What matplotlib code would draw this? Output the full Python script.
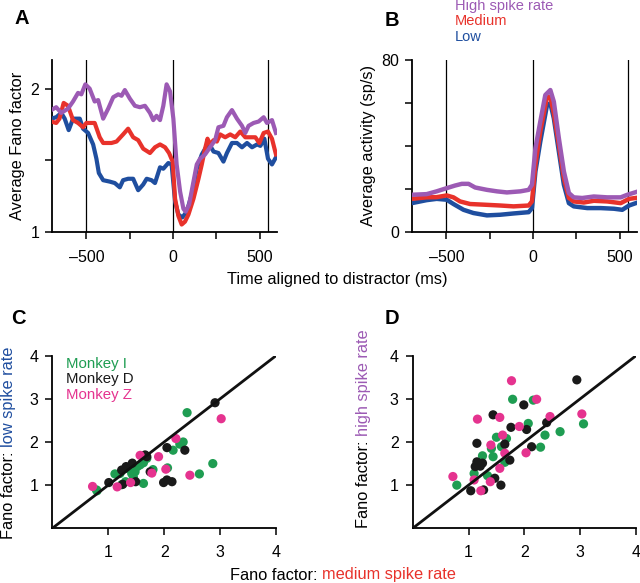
import matplotlib
matplotlib.use("Agg")
import matplotlib.pyplot as plt
from matplotlib.ticker import FixedLocator

plt.rcParams['font.family'] = ['Liberation Sans', 'DejaVu Sans']

# ---------------- Panel A: Fano factor time courses ----------------
t_high_A = [-703, -674, -645, -606, -577, -548, -529, -506, -481, -452, -432, -403, -374, -345, -316, -297,
            -278, -249, -220, -191, -162, -133, -114, -95, -75, -56, -37, -17, 2, 21, 41, 60, 73, 93, 118,
            137, 156, 185, 214, 243, 262, 291, 311, 340, 369, 398, 417, 436, 465, 494, 523, 542, 571, 594]
f_high_A = [1.85, 1.87, 1.83, 1.86, 1.91, 1.97, 1.96, 2.03, 2.00, 1.91, 1.92, 1.79, 1.86, 1.94, 1.96, 1.95,
            1.99, 1.93, 1.88, 1.87, 1.88, 1.83, 1.78, 1.81, 1.78, 1.88, 2.03, 1.98, 1.79, 1.47, 1.28, 1.16,
            1.14, 1.19, 1.35, 1.47, 1.51, 1.54, 1.59, 1.64, 1.73, 1.74, 1.80, 1.85, 1.79, 1.74, 1.69, 1.74,
            1.76, 1.77, 1.80, 1.76, 1.78, 1.69]
t_med_A = [-703, -674, -655, -631, -606, -577, -548, -519, -500, -452, -423, -403, -355, -326, -288, -259,
           -230, -201, -172, -133, -104, -75, -46, -23, -2, 12, 31, 50, 69, 89, 118, 147, 166, 185, 199, 214,
           234, 253, 272, 301, 330, 359, 388, 417, 446, 475, 498, 523, 548, 571, 594]
f_med_A = [1.77, 1.76, 1.79, 1.90, 1.88, 1.78, 1.76, 1.73, 1.76, 1.76, 1.66, 1.62, 1.62, 1.63, 1.68, 1.72,
           1.66, 1.64, 1.58, 1.55, 1.59, 1.61, 1.59, 1.55, 1.49, 1.23, 1.11, 1.05, 1.07, 1.12, 1.23, 1.37,
           1.47, 1.58, 1.65, 1.61, 1.64, 1.63, 1.68, 1.66, 1.68, 1.66, 1.70, 1.66, 1.66, 1.66, 1.62, 1.69,
           1.70, 1.65, 1.54]
t_low_A = [-703, -674, -645, -625, -602, -577, -538, -519, -490, -461, -442, -428, -403, -365, -336, -307,
           -288, -259, -230, -201, -172, -152, -124, -104, -75, -56, -27, -8, 12, 31, 54, 79, 108, 137, 166,
           205, 234, 262, 291, 311, 340, 369, 398, 427, 456, 485, 504, 527, 548, 571, 594]
f_low_A = [1.79, 1.80, 1.83, 1.79, 1.71, 1.79, 1.79, 1.72, 1.69, 1.61, 1.51, 1.41, 1.36, 1.35, 1.34, 1.31,
           1.36, 1.37, 1.37, 1.29, 1.33, 1.37, 1.36, 1.34, 1.45, 1.44, 1.48, 1.47, 1.21, 1.12, 1.10, 1.14,
           1.26, 1.44, 1.54, 1.62, 1.56, 1.55, 1.49, 1.55, 1.62, 1.62, 1.59, 1.62, 1.59, 1.61, 1.60, 1.65,
           1.51, 1.47, 1.52]

# ---------------- Panel B: average activity ----------------
t_high_B = [-700, -614, -556, -498, -450, -411, -372, -334, -266, -208, -151, -73, -25, -6, 14, 42, 71, 100,
            120, 149, 178, 207, 235, 284, 351, 428, 506, 544, 600]
r_high_B = [17.2, 17.5, 18.8, 20.3, 21.5, 22.3, 22.3, 20.6, 19.5, 18.8, 18.3, 18.8, 19.5, 21.9, 38.9, 51.3,
            63.7, 66.0, 60.6, 43.6, 28.1, 18.0, 16.0, 15.7, 16.4, 16.0, 16.0, 17.2, 18.6]
t_med_B = [-700, -614, -556, -498, -459, -421, -363, -286, -189, -112, -25, -6, 14, 42, 81, 100, 120, 149,
           178, 207, 235, 293, 351, 428, 506, 554, 600]
r_med_B = [15.3, 16.0, 16.1, 16.9, 16.0, 14.1, 12.9, 12.6, 12.2, 11.8, 12.2, 14.1, 31.2, 46.7, 62.9, 62.9,
           55.2, 40.5, 25.0, 15.7, 14.1, 13.6, 14.4, 14.1, 13.3, 15.3, 15.8]
t_low_B = [-700, -614, -556, -498, -459, -401, -344, -266, -189, -112, -25, -6, 14, 42, 81, 100, 120, 149,
           178, 207, 235, 313, 390, 467, 515, 554, 600]
r_low_B = [13.3, 14.7, 15.3, 14.9, 12.9, 10.2, 8.7, 7.6, 7.9, 8.5, 9.1, 11.0, 28.1, 42.0, 59.1, 59.8, 52.9,
           37.4, 21.9, 13.3, 11.8, 11.0, 11.0, 10.7, 10.2, 12.2, 13.5]

event_times = [-500, 0, 550]

# ---------------- Panel C: medium (x) vs low (y) ----------------
C_I_x = [2.41, 2.34, 2.28, 2.16, 2.06, 2.87, 2.63, 1.80, 1.63, 0.79, 1.12, 1.24, 1.33, 1.42, 1.48, 1.52,
         1.57, 1.63, 1.69, 1.45, 1.21, 1.37, 1.31, 0.80]
C_I_y = [2.68, 2.00, 1.95, 1.81, 1.40, 1.50, 1.26, 1.36, 1.04, 0.89, 1.26, 1.01, 1.39, 1.27, 1.31, 1.43,
         1.47, 1.52, 1.62, 1.18, 1.27, 1.39, 1.08, 0.87]
C_D_x = [2.91, 2.05, 2.37, 1.99, 2.05, 2.14, 1.66, 1.43, 1.24, 1.49, 1.01, 1.26, 1.75, 1.69, 1.32]
C_D_y = [2.91, 1.87, 1.81, 1.06, 1.12, 1.08, 1.70, 1.51, 1.35, 1.08, 1.06, 1.02, 1.31, 1.66, 1.43]
C_Z_x = [3.02, 2.21, 2.46, 2.03, 1.90, 1.57, 0.72, 1.16, 1.40, 1.78]
C_Z_y = [2.54, 2.08, 1.23, 1.37, 1.66, 1.69, 0.97, 0.96, 1.06, 1.28]

# ---------------- Panel D: medium (x) vs high (y) ----------------
D_I_x = [1.79, 2.16, 2.07, 2.37, 2.64, 3.06, 2.29, 0.79, 1.10, 1.25, 1.34, 1.50, 1.68, 1.59, 1.41, 1.44, 1.65]
D_I_y = [2.99, 2.97, 2.43, 2.16, 2.24, 2.42, 1.88, 1.00, 1.27, 1.68, 1.22, 2.11, 2.08, 1.89, 1.85, 1.66, 1.53]
D_D_x = [2.94, 1.99, 1.44, 1.76, 2.04, 2.40, 2.13, 1.15, 1.15, 1.25, 1.12, 1.21, 1.65, 1.74, 1.47, 1.58,
         1.04, 1.27]
D_D_y = [3.44, 2.86, 2.63, 2.34, 2.29, 2.45, 1.89, 1.97, 1.54, 1.51, 1.43, 1.44, 1.95, 1.58, 1.16, 1.00,
         0.87, 0.89]
D_Z_x = [1.77, 2.22, 1.16, 1.56, 2.46, 3.03, 1.91, 1.61, 2.03, 0.72, 1.10, 1.39, 1.56, 1.22, 1.40, 1.65]
D_Z_y = [3.42, 2.99, 2.53, 2.57, 2.59, 2.65, 2.36, 2.16, 1.75, 1.20, 1.12, 1.08, 1.39, 0.87, 1.93, 1.74]

# ---------------- colours ----------------
c_high = '#9C5AB4'
c_med = '#E8322B'
c_low = '#1F4E9F'
c_I = '#1F9D52'
c_D = '#1A1A1A'
c_Z = '#E5338F'

W, H = 640, 583
fig = plt.figure(figsize=(W / 100, H / 100), dpi=100)


def ax_px(left, top, right, bottom):
    return fig.add_axes([left / W, 1 - bottom / H, (right - left) / W, (bottom - top) / H])


def style(ax, tickpad_x=8, tickpad_y=4):
    for s in ['top', 'right']:
        ax.spines[s].set_visible(False)
    for s in ['left', 'bottom']:
        ax.spines[s].set_linewidth(1.3)
    ax.tick_params(which='both', direction='out', length=5, width=1.1, labelsize=11.5)
    ax.tick_params(axis='x', pad=tickpad_x)
    ax.tick_params(axis='y', pad=tickpad_y)


LAB_FS = 11.8

# Panel A
axA = ax_px(51.7, 60, 277, 231.7)
for tv in event_times:
    axA.axvline(tv, color='black', lw=0.9, zorder=1)
axA.plot(t_low_A, f_low_A, color=c_low, lw=3.0, zorder=3)
axA.plot(t_med_A, f_med_A, color=c_med, lw=3.0, zorder=4)
axA.plot(t_high_A, f_high_A, color=c_high, lw=3.0, zorder=5)
axA.set_xlim(-700, 600)
axA.set_ylim(1, 2.2)
axA.set_xticks([-500, 0, 500])
axA.set_xticklabels(['\u2013500', '0', '500'])
axA.xaxis.set_minor_locator(FixedLocator([-250, 250]))
axA.set_yticks([1, 1.5, 2])
axA.set_yticklabels(['1', '', '2'])
style(axA)
axA.set_ylabel('Average Fano factor', fontsize=LAB_FS, labelpad=4)

# Panel B
axB = ax_px(411.7, 60, 637, 231.7)
for tv in event_times:
    axB.axvline(tv, color='black', lw=0.9, zorder=1)
axB.plot(t_low_B, r_low_B, color=c_low, lw=3.2, zorder=3)
axB.plot(t_med_B, r_med_B, color=c_med, lw=3.2, zorder=4)
axB.plot(t_high_B, r_high_B, color=c_high, lw=3.2, zorder=5)
axB.set_xlim(-700, 600)
axB.set_ylim(0, 80)
axB.set_xticks([-500, 0, 500])
axB.set_xticklabels(['\u2013500', '0', '500'])
axB.xaxis.set_minor_locator(FixedLocator([-250, 250]))
axB.set_yticks([0, 20, 40, 60, 80])
axB.set_yticklabels(['0', '', '', '', '80'])
style(axB)
axB.set_ylabel('Average activity (sp/s)', fontsize=LAB_FS, labelpad=4)

# legend text for B
fig.text(455 / W, 1 - 6 / H, 'High spike rate', color=c_high, fontsize=10.5, va='center', ha='left')
fig.text(455 / W, 1 - 21 / H, 'Medium', color=c_med, fontsize=10.5, va='center', ha='left')
fig.text(455 / W, 1 - 37 / H, 'Low', color=c_low, fontsize=10.5, va='center', ha='left')

fig.text(337 / W, 1 - 280 / H, 'Time aligned to distractor (ms)', fontsize=LAB_FS, ha='center', va='center')


def scatter_panel(ax, gx, gy, dx, dy, zx, zy):
    ax.scatter(gx, gy, s=44, color=c_I, edgecolors='none', zorder=3)
    ax.scatter(dx, dy, s=44, color=c_D, edgecolors='none', zorder=3)
    ax.scatter(zx, zy, s=44, color=c_Z, edgecolors='none', zorder=3)
    ax.plot([0, 4], [0, 4], color='#111111', lw=2.0, zorder=4)
    ax.set_xlim(0, 4)
    ax.set_ylim(0, 4)
    ax.set_xticks([1, 2, 3, 4])
    ax.set_yticks([1, 2, 3, 4])
    style(ax, tickpad_x=7, tickpad_y=5)


axC = ax_px(52.3, 355.7, 276, 528.3)
scatter_panel(axC, C_I_x, C_I_y, C_D_x, C_D_y, C_Z_x, C_Z_y)
axC.text(0.25, 3.8, 'Monkey I', color=c_I, fontsize=10.8, va='center')
axC.text(0.25, 3.45, 'Monkey D', color=c_D, fontsize=10.8, va='center')
axC.text(0.25, 3.1, 'Monkey Z', color=c_Z, fontsize=10.8, va='center')

axD = ax_px(412.7, 355.7, 636, 528.3)
scatter_panel(axD, D_I_x, D_I_y, D_D_x, D_D_y, D_Z_x, D_Z_y)

# panel letters
for lbl, x, y in [('A', 22, 18), ('B', 392, 20), ('C', 18, 318), ('D', 392, 318)]:
    fig.text(x / W, 1 - y / H, lbl, fontsize=14.5, fontweight='bold', ha='center', va='center')

# multi-coloured labels
fig.canvas.draw()
renderer = fig.canvas.get_renderer()


def two_part(x, y, part1, part2, col2, rotation):
    # place part1 then part2 continuing along the text direction, centred on (x, y) in pixels
    t1 = fig.text(0, 0, part1, fontsize=LAB_FS, rotation=rotation, ha='left', va='bottom')
    t2 = fig.text(0, 0, part2, fontsize=LAB_FS, color=col2, rotation=rotation, ha='left', va='bottom')
    e1 = t1.get_window_extent(renderer)
    e2 = t2.get_window_extent(renderer)
    if rotation == 0:
        w1, w2 = e1.width, e2.width
        x0 = x - (w1 + w2) / 2
        t1.set_position((x0 / W, 1 - y / H))
        t2.set_position(((x0 + w1) / W, 1 - y / H))
        t1.set_va('center')
        t2.set_va('center')
    else:
        h1, h2 = e1.height, e2.height
        y0 = (H - y) - (h1 + h2) / 2
        t1.set_position((x / W, y0 / H))
        t2.set_position((x / W, (y0 + h1) / H))
        t1.set_ha('center')
        t2.set_ha('center')


two_part(343, 575, 'Fano factor: ', 'medium spike rate', c_med, 0)
two_part(8.5, 443, 'Fano factor: ', 'low spike rate', c_low, 90)
two_part(363.5, 429, 'Fano factor: ', 'high spike rate', c_high, 90)

fig.savefig('out.png', dpi=100)
